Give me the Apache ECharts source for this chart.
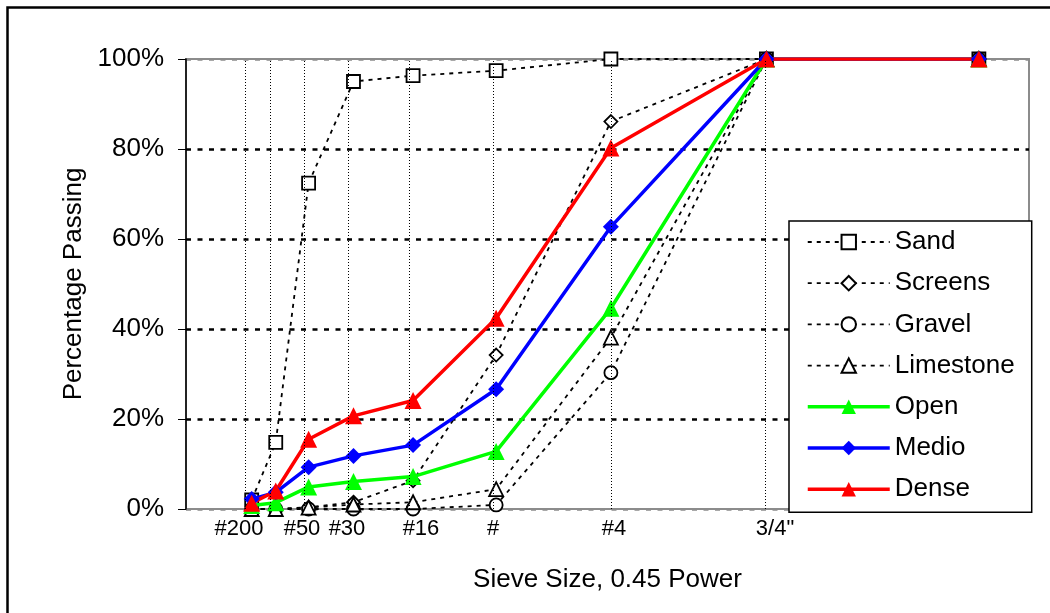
<!DOCTYPE html>
<html>
<head>
<meta charset="utf-8">
<script src="https://cdn.jsdelivr.net/npm/echarts@6/dist/echarts.min.js"></script>
<style>
  html, body { margin: 0; padding: 0; background: #fff; }
  #chart { width: 1050px; height: 613px; }
</style>
</head>
<body>
<div id="chart"></div>
<script>
// Sieve openings (mm) and percent passing for each blend / aggregate
const sieveSizesMm = [0.075, 0.15, 0.3, 0.6, 1.18, 2.36, 4.75, 9.5, 19];
const sand      = [2.0, 14.8, 72.4, 95.0, 96.3, 97.4, 100, 100, 100];
const screens   = [0, 0, 0.4, 1.5, 6.3, 34.2, 86.1, 100, 100];
const gravel    = [0, 0, 0, 0, 0, 0.9, 30.3, 100, 100];
const limestone = [0, 0, 0.3, 1.0, 1.5, 4.4, 38.1, 100, 100];
const openMix   = [0.8, 1.4, 4.9, 6.1, 7.2, 12.8, 44.6, 100, 100];
const medioMix  = [2.2, 3.7, 9.3, 11.8, 14.2, 26.6, 62.7, 100, 100];
const denseMix  = [1.3, 4.0, 15.5, 20.7, 24.1, 42.4, 80.2, 100, 100];

// Sieve reference lines and tick labels, in 0.45-power axis units
const sieveLinePositions = [0.285, 0.399, 0.555, 0.773, 1.058, 1.457, 2.017, 2.752];
const tickLabelPositions = [0.2515, 0.5504, 0.7639, 1.115, 1.4567, 2.0309, 2.7948];
const tickLabels = ['#200', '#50', '#30', '#16', '#', '#4', '3/4"'];
const yTicks = [0, 20, 40, 60, 80, 100];

const POWER = 0.45;
const FONT = '"Liberation Sans", Arial, sans-serif';

function pts(values) {
  return sieveSizesMm.map((s, i) => [Math.pow(s, POWER), values[i]]);
}

const dashedLine = { color: '#000', width: 1.8, type: [4, 5] };
const hollow = { color: '#fff', borderColor: '#000', borderWidth: 1.8 };

function dashedSeries(name, values, symbol, size) {
  return {
    name, type: 'line', data: pts(values),
    symbol, symbolSize: size, showAllSymbol: true,
    lineStyle: dashedLine, itemStyle: hollow,
    emphasis: { disabled: true }, z: 2
  };
}
function solidSeries(name, values, color, symbol, size) {
  return {
    name, type: 'line', data: pts(values),
    symbol, symbolSize: size, showAllSymbol: true,
    lineStyle: { color, width: 3.5 }, itemStyle: { color, borderWidth: 0 },
    emphasis: { disabled: true }, z: 3
  };
}

const series = [
  dashedSeries('Sand', sand, 'rect', 13),
  dashedSeries('Screens', screens, 'diamond', 13),
  dashedSeries('Gravel', gravel, 'circle', 13),
  dashedSeries('Limestone', limestone, 'triangle', 14),
  solidSeries('Open', openMix, '#00ff00', 'triangle', 17),
  solidSeries('Medio', medioMix, '#0000ff', 'diamond', 16),
  solidSeries('Dense', denseMix, '#ff0000', 'triangle', 17)
];

// Dotted vertical lines at the sieve openings
series[0].markLine = {
  silent: true, symbol: 'none', label: { show: false },
  lineStyle: { color: '#000', width: 1, type: [1, 2] },
  data: sieveLinePositions.map(x => ({ xAxis: x }))
};

const chart = echarts.init(document.getElementById('chart'), null, { renderer: 'canvas' });
chart.setOption({
  animation: false,
  backgroundColor: '#fff',
  textStyle: { fontFamily: FONT },
  graphic: [{
    type: 'rect', left: 5, top: 5, silent: true,
    shape: { width: 1200, height: 800 },
    style: { fill: 'none', stroke: '#000', lineWidth: 2.5 }
  }],
  grid: {
    left: 186, right: 21, top: 59, bottom: 104,
    show: true, borderColor: '#8c8c8c', borderWidth: 2, backgroundColor: '#fff'
  },
  xAxis: {
    type: 'value', min: 0, max: 4,
    name: 'Sieve Size, 0.45 Power', nameLocation: 'middle', nameGap: 58,
    nameTextStyle: { fontSize: 26, color: '#000', fontFamily: FONT },
    axisLine: { show: false },
    axisTick: { show: false },
    splitLine: { show: false },
    axisLabel: {
      customValues: tickLabelPositions,
      fontSize: 22, color: '#000', margin: 9, fontFamily: FONT,
      formatter: (v) => {
        let best = 0;
        tickLabelPositions.forEach((p, i) => {
          if (Math.abs(p - v) < Math.abs(tickLabelPositions[best] - v)) best = i;
        });
        return tickLabels[best];
      }
    }
  },
  yAxis: {
    type: 'value', min: 0, max: 100, interval: 20,
    name: 'Percentage Passing', nameLocation: 'middle', nameGap: 99,
    nameTextStyle: { fontSize: 26, color: '#000', fontFamily: FONT },
    axisLine: { show: true, lineStyle: { color: '#000', width: 1.5 } },
    axisTick: { show: true, inside: false, length: 8, lineStyle: { color: '#000', width: 1 } },
    axisLabel: { formatter: '{value}%', fontSize: 26, color: '#000', margin: 22, fontFamily: FONT },
    splitLine: {
      show: true,
      lineStyle: {
        color: yTicks.map(t => (t === 0 || t === 100) ? '#8c8c8c' : '#000'),
        width: 2.5, type: [5, 6.5]
      }
    }
  },
  legend: {
    orient: 'vertical', left: 789, top: 221,
    backgroundColor: '#fff', borderColor: '#000', borderWidth: 1.5,
    padding: [8, 17, 10, 17],
    itemWidth: 82, itemHeight: 18, itemGap: 15.2,
    lineStyle: { width: 'inherit' },
    textStyle: { fontSize: 26, color: '#000', fontFamily: FONT, lineHeight: 26 },
    data: ['Sand', 'Screens', 'Gravel', 'Limestone', 'Open', 'Medio', 'Dense']
  },
  series
});
</script>
</body>
</html>
